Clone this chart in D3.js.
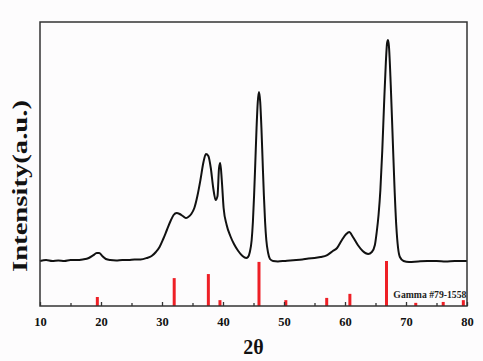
<!DOCTYPE html>
<html><head><meta charset="utf-8">
<script src="https://cdn.jsdelivr.net/npm/d3@7"></script>
<style>
html,body{margin:0;padding:0;background:#fdfcfd;}
svg{display:block;}
</style></head>
<body>
<svg id="c" width="483" height="361"></svg>
<script>
// XRD pattern (2θ in degrees, intensity in a.u.)
const twoTheta = [10,11,12,13,14,15,16,17,18,18.7,19.3,19.7,20.2,20.8,21.5,22.5,23.5,24.5,25.5,26.5,27.5,28.3,29.0,29.6,30.2,30.8,31.4,31.9,32.4,32.9,33.4,33.9,34.3,34.8,35.3,35.8,36.3,36.8,37.2,37.6,38.0,38.4,38.8,39.1,39.35,39.55,39.8,40.1,40.6,41.2,41.8,42.5,43.2,43.8,44.1,44.4,44.7,44.9,45.1,45.3,45.5,45.7,45.9,46.1,46.3,46.5,46.7,46.9,47.1,47.4,47.7,48.2,49,50,51,52,53,54,55,56,57,58,58.7,59.5,60.2,60.7,61.3,62.1,62.9,63.8,64.4,64.9,65.2,65.5,65.8,66.1,66.4,66.7,66.9,67.05,67.2,67.5,67.8,68.1,68.4,68.7,69.0,69.6,70.5,72,73.5,75,76.5,78,80];
const intensity = [225,230,225,228,225,230,230,233,240,253,265,265,250,235,230,228,230,230,233,233,240,250,270,295,335,380,425,455,465,460,450,440,445,460,490,550,630,720,760,750,690,590,530,550,690,715,630,490,405,350,310,275,250,240,245,270,330,420,555,720,890,1020,1070,1020,890,720,555,420,330,265,235,225,223,225,228,230,233,238,240,245,253,275,290,330,360,370,345,305,275,260,270,305,370,455,580,770,1005,1220,1315,1330,1300,1105,855,605,405,290,245,225,220,223,225,225,223,225,225];

// Reference pattern: Gamma #79-1558 (relative intensity)
const refLabel = "Gamma #79-1558";
const refPos = [19.4,32.0,37.6,39.5,45.9,50.3,57.0,60.8,66.8,71.6,76.1,79.4];
const refRel = [20,62,71,13,98,13,18,27,100,7,9,13];

const majorTicks = [10,20,30,40,50,60,70,80];
const minorTicks = [15,25,35,45,55,65,75];
const xTitle = "2θ";
const yTitle = "Intensity(a.u.)";

const svg = d3.select("#c");
const L = 40, R = 467, T = 22, B = 306;

const x = d3.scaleLinear().domain([10,80]).range([L,R]);
const y = d3.scaleLinear().domain([0,1420]).range([B,T]);
const yRef = d3.scaleLinear().domain([0,100]).range([B,261]);

const serif = "'Liberation Serif','Times New Roman',serif";

// curve
const pts = twoTheta.map((t,i)=>[t,intensity[i]]);
svg.append("path")
  .datum(pts)
  .attr("fill","none")
  .attr("stroke","#111")
  .attr("stroke-width",2)
  .attr("stroke-linejoin","round")
  .attr("d", d3.line().x(d=>x(d[0])).y(d=>y(d[1])).curve(d3.curveMonotoneX));

// reference sticks
svg.append("g").selectAll("line")
  .data(refPos.map((p,i)=>({p, r:refRel[i]})))
  .join("line")
  .attr("x1",d=>x(d.p)).attr("x2",d=>x(d.p))
  .attr("y1",yRef(0)).attr("y2",d=>yRef(d.r))
  .attr("stroke","#ee1f26")
  .attr("stroke-width",3);

svg.append("text")
  .attr("x",x(79.9)).attr("y",298)
  .attr("text-anchor","end")
  .attr("font-family",serif)
  .attr("font-weight","bold")
  .attr("font-size",9.5)
  .attr("fill","#222")
  .attr("textLength",73).attr("lengthAdjust","spacingAndGlyphs")
  .text(refLabel);

// frame
svg.append("rect")
  .attr("x",L).attr("y",T).attr("width",R-L).attr("height",B-T)
  .attr("fill","none").attr("stroke","#333").attr("stroke-width",1.5);

// x axis
const ax = svg.append("g").attr("transform",`translate(0,${B})`)
  .call(d3.axisBottom(x).tickValues(majorTicks).tickSize(-4).tickPadding(11).tickFormat(d3.format("d")));
ax.select(".domain").remove();
ax.selectAll("line").attr("stroke","#333").attr("stroke-width",1.3);
ax.selectAll("text").attr("font-family",serif).attr("font-weight","bold").attr("font-size",12.5).attr("fill","#111");

const axm = svg.append("g").attr("transform",`translate(0,${B})`)
  .call(d3.axisBottom(x).tickValues(minorTicks).tickSize(-3).tickFormat(""));
axm.select(".domain").remove();
axm.selectAll("line").attr("stroke","#333").attr("stroke-width",1.3);

// titles
svg.append("text")
  .attr("x",(L+R)/2).attr("y",354)
  .attr("text-anchor","middle")
  .attr("font-family",serif).attr("font-weight","bold").attr("font-size",20).attr("fill","#111")
  .text(xTitle);

svg.append("text")
  .attr("transform","translate(27,186) rotate(-90)")
  .attr("text-anchor","middle")
  .attr("font-family",serif).attr("font-weight","bold").attr("font-size",22).attr("fill","#111")
  .attr("textLength",172).attr("lengthAdjust","spacingAndGlyphs")
  .text(yTitle);
</script>
</body></html>
